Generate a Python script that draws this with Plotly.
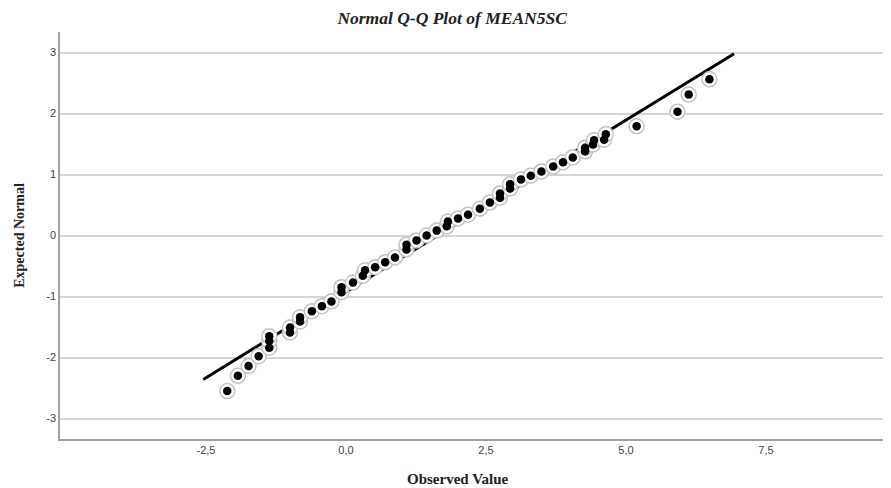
import plotly.graph_objects as go

observed = [-2.12, -1.93, -1.74, -1.56, -1.37, -1.37, -1.37, -1.00, -1.00, -0.82,
            -0.82, -0.61, -0.43, -0.26, -0.08, -0.08, 0.125, 0.30, 0.34, 0.52,
            0.70, 0.875, 1.08, 1.08, 1.26, 1.44, 1.62, 1.80, 1.82, 2.00,
            2.18, 2.39, 2.57, 2.75, 2.75, 2.93, 2.93, 3.125, 3.30, 3.49,
            3.70, 3.875, 4.05, 4.27, 4.27, 4.41, 4.43, 4.61, 4.64, 5.19,
            5.92, 6.12, 6.49]
expected = [-2.55, -2.30, -2.14, -1.98, -1.84, -1.73, -1.65, -1.59, -1.51, -1.41,
            -1.34, -1.24, -1.16, -1.08, -0.93, -0.85, -0.77, -0.66, -0.57, -0.52,
            -0.44, -0.36, -0.23, -0.15, -0.08, 0.00, 0.08, 0.15, 0.23, 0.28,
            0.34, 0.44, 0.54, 0.62, 0.69, 0.77, 0.84, 0.92, 0.98, 1.05,
            1.13, 1.20, 1.28, 1.38, 1.44, 1.49, 1.56, 1.57, 1.66, 1.79,
            2.03, 2.31, 2.56]

# Reference line endpoints
line_x = [-2.55, 6.93]
line_y = [-2.36, 2.98]

x_ticks = [-2.5, 0.0, 2.5, 5.0, 7.5]
x_tick_labels = ["-2,5", "0,0", "2,5", "5,0", "7,5"]
y_ticks = [-3, -2, -1, 0, 1, 2, 3]
y_tick_labels = ["-3", "-2", "-1", "0", "1", "2", "3"]

fig = go.Figure()

fig.add_trace(go.Scatter(
    x=line_x, y=line_y, mode="lines",
    line=dict(color="black", width=3), hoverinfo="skip", showlegend=False))

fig.add_trace(go.Scatter(
    x=observed, y=expected, mode="markers",
    marker=dict(size=15, color="white", line=dict(color="#c4c4c4", width=1.5)),
    showlegend=False, hoverinfo="skip"))

fig.add_trace(go.Scatter(
    x=observed, y=expected, mode="markers",
    marker=dict(size=8.5, color="black", line=dict(width=0)),
    showlegend=False))

fig.update_layout(
    width=883, height=480,
    margin=dict(l=52, r=3, t=24, b=48.5),
    paper_bgcolor="white", plot_bgcolor="white",
    title=dict(text="<b><i>Normal Q-Q Plot of MEAN5SC</i></b>",
               x=0.503, xanchor="center", y=0.979, yanchor="middle",
               font=dict(family="Liberation Serif", size=17.5, color="#222222")),
    font=dict(family="Liberation Sans", size=11, color="#444444"),
    annotations=[dict(
        text="<b>Observed Value</b>", xref="paper", yref="paper",
        x=(450 - 52) / (883 - 55), y=0, xanchor="center", yanchor="middle",
        yshift=-40, showarrow=False,
        font=dict(family="Liberation Serif", size=15, color="#222222"))],
)

fig.update_xaxes(
    range=[-5.107, 9.679], tickvals=x_ticks, ticktext=x_tick_labels,
    showgrid=False, zeroline=False,
    showline=True, linecolor="#a0a0a0", linewidth=1.5,
    ticks="", ticklen=0,
    tickfont=dict(family="Liberation Sans", size=11, color="#444444"))

fig.update_yaxes(
    range=[-3.336, 3.336], tickvals=y_ticks, ticktext=y_tick_labels,
    showgrid=True, gridcolor="#d6d6d6", gridwidth=1.5, zeroline=False,
    showline=True, linecolor="#a0a0a0", linewidth=1.5,
    ticks="", ticklen=0,
    tickfont=dict(family="Liberation Sans", size=11, color="#444444"),
    title=dict(text="<b>Expected Normal</b>", standoff=18,
               font=dict(family="Liberation Serif", size=14, color="#222222")))

fig.write_html("out.html")
